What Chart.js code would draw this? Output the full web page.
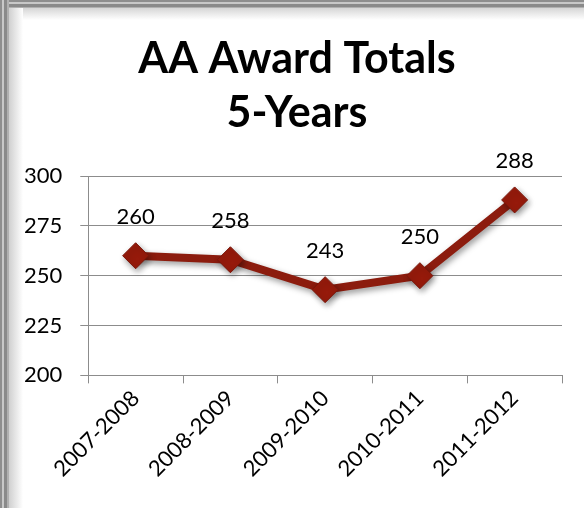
<!DOCTYPE html>
<html>
<head>
<meta charset="utf-8">
<script src="https://cdn.jsdelivr.net/npm/chart.js@4/dist/chart.umd.min.js"></script>
<style>
    html, body { margin: 0; padding: 0; background: #fff; }
    .frame {
        position: relative;
        width: 584px;
        height: 508px;
        overflow: hidden;
        background: #fff;
    }
    .frame .edge-top {
        position: absolute; left: 0; top: 0; width: 584px; height: 8px;
        background: linear-gradient(#8e8e8e 0, #8e8e8e 2px, #c8c8c8 2px, #c8c8c8 4px, #8a8a8a 4px, #8a8a8a 7px, #b0b0b0 7px);
    }
    .frame .edge-left {
        position: absolute; left: 0; top: 0; width: 9px; height: 508px;
        background: linear-gradient(90deg, #8e8e8e 0, #8e8e8e 2px, #c8c8c8 2px, #c8c8c8 4px, #8a8a8a 4px, #8a8a8a 7px, #b0b0b0 7px);
    }
    .frame .bevel-top {
        position: absolute; left: 9px; top: 8px; width: 575px; height: 12px;
        background: linear-gradient(#d6d6d6, #fff);
    }
    .frame .bevel-left {
        position: absolute; left: 9px; top: 8px; width: 14px; height: 500px;
        background: linear-gradient(90deg, #d0d0d0, #fff);
    }
    canvas { position: absolute; left: 0; top: 0; }
</style>
</head>
<body>
<div class="frame">
    <div class="bevel-top"></div>
    <div class="bevel-left"></div>
    <div class="edge-top"></div>
    <div class="edge-left"></div>
    <canvas id="awardChart" width="584" height="508"></canvas>
</div>
<script>
    const titleLines = ['AA Award Totals', '5-Years'];
    const seasons = ['2007-2008', '2008-2009', '2009-2010', '2010-2011', '2011-2012'];
    const awardTotals = [260, 258, 243, 250, 288];
    const yTicks = [200, 225, 250, 275, 300];

    const FONT = 'Lato, "Open Sans", sans-serif';

    // two-line title, centred on the whole frame rather than the plot box
    const frameTitle = {
        id: 'frameTitle',
        afterDraw(chart) {
            const ctx = chart.ctx;
            ctx.save();
            ctx.font = 'bold 43px ' + FONT;
            ctx.fillStyle = '#000';
            ctx.textAlign = 'center';
            ctx.textBaseline = 'alphabetic';
            ctx.fillText(titleLines[0], 297, 73);
            ctx.fillText(titleLines[1], 297, 127);
            ctx.restore();
        }
    };

    // values printed above each marker
    const pointLabels = {
        id: 'pointLabels',
        afterDatasetsDraw(chart) {
            const ctx = chart.ctx;
            const meta = chart.getDatasetMeta(0);
            ctx.save();
            ctx.font = '22px ' + FONT;
            ctx.fillStyle = '#000';
            ctx.textAlign = 'center';
            ctx.textBaseline = 'middle';
            meta.data.forEach((pt, i) => {
                ctx.fillText(chart.data.datasets[0].data[i], pt.x, pt.y - 39);
            });
            ctx.restore();
        }
    };

    // soft drop shadow under the line and markers
    const lineShadow = {
        id: 'lineShadow',
        beforeDatasetDraw(chart) {
            const ctx = chart.ctx;
            ctx.save();
            ctx.shadowColor = 'rgba(0,0,0,0.4)';
            ctx.shadowBlur = 6;
            ctx.shadowOffsetX = 2;
            ctx.shadowOffsetY = 3;
        },
        afterDatasetDraw(chart) {
            chart.ctx.restore();
        }
    };

    new Chart(document.getElementById('awardChart'), {
        type: 'line',
        data: {
            labels: seasons,
            datasets: [{
                data: awardTotals,
                borderColor: '#8c1c0e',
                borderWidth: 8,
                backgroundColor: '#961a0b',
                pointStyle: 'rectRot',
                pointRadius: 13,
                pointBorderWidth: 1,
                pointBorderColor: '#7a160a',
                pointBackgroundColor: '#961a0b',
                tension: 0,
                fill: false
            }]
        },
        options: {
            responsive: false,
            animation: false,
            layout: { padding: { left: 6, right: 22, top: 176, bottom: 24 } },
            plugins: {
                legend: { display: false },
                tooltip: { enabled: false },
                title: { display: false }
            },
            scales: {
                x: {
                    offset: true,
                    grid: { offset: true, drawOnChartArea: false, drawTicks: true, tickLength: 8, color: '#8c8c8c' },
                    border: { color: '#8c8c8c', width: 1 },
                    ticks: {
                        color: '#000',
                        font: { family: FONT, size: 22 },
                        minRotation: 45,
                        maxRotation: 45,
                        padding: 2
                    }
                },
                y: {
                    min: 200,
                    max: 300,
                    afterBuildTicks: axis => { axis.ticks = yTicks.map(v => ({ value: v })); },
                    grid: { color: '#8c8c8c', tickLength: 8 },
                    border: { color: '#8c8c8c', width: 1 },
                    ticks: {
                        color: '#000',
                        font: { family: FONT, size: 22 },
                        padding: 18
                    }
                }
            }
        },
        plugins: [lineShadow, pointLabels, frameTitle]
    });
</script>
</body>
</html>
